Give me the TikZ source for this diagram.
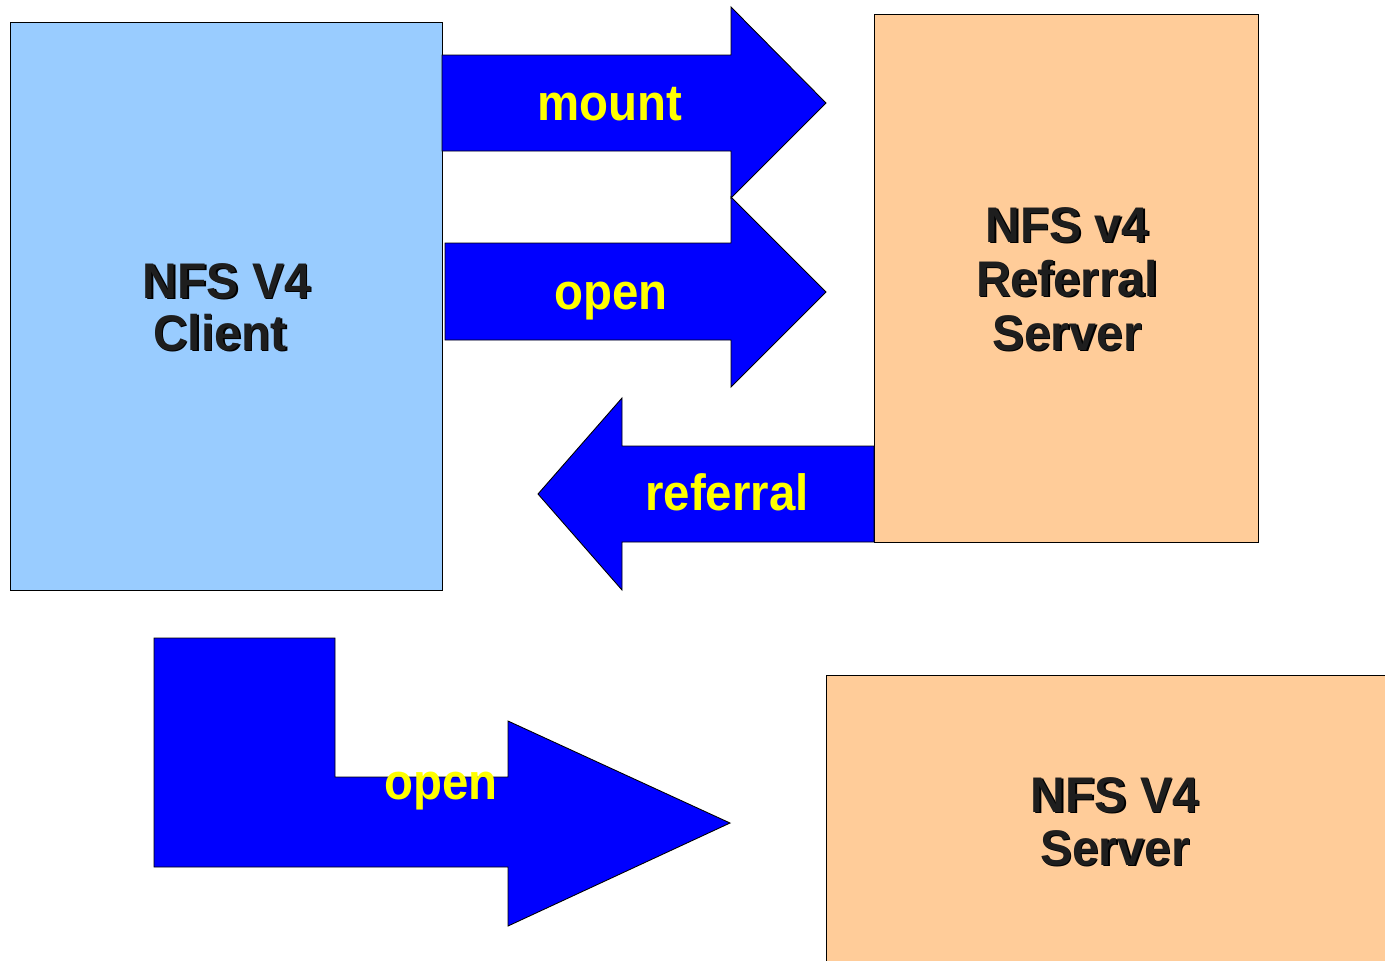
\documentclass[tikz,border=0pt]{standalone}
\usepackage{fontspec}
\setmainfont{Liberation Sans}
\definecolor{clientblue}{HTML}{99CCFF}
\definecolor{serverpeach}{HTML}{FFCC99}
\definecolor{arrowblue}{HTML}{0000FF}
\definecolor{labelyellow}{HTML}{FFFF00}
\definecolor{inkgray}{HTML}{1E1E1E}
\tikzset{
  box/.style={draw=black, line width=0.5pt, inner sep=0pt, anchor=north west},
  blockarrow/.style={draw=black, fill=arrowblue, line width=0.5pt, line join=miter},
  title/.style={font=\bfseries\fontsize{28.5}{30}\selectfont, text=inkgray, inner sep=0pt, anchor=base, xscale=0.96},
  titleshadow/.style={title, text=black},
  msg/.style={font=\bfseries\fontsize{29}{30}\selectfont, text=labelyellow, inner sep=0pt, anchor=base, xscale=0.93},
}
\begin{document}
\begin{tikzpicture}[x=0.02cm, y=-0.02cm]
  \useasboundingbox (0,0) rectangle (1385,960);
  \clip (0,0) rectangle (1385,960);

  % hosts
  \node[box, fill=clientblue, minimum width=8.64cm, minimum height=11.36cm] (client) at (10,22) {};
  \node[box, fill=serverpeach, minimum width=7.68cm, minimum height=10.56cm] (referral) at (874,14) {};
  \node[box, fill=serverpeach, minimum width=12cm, minimum height=8cm] (server) at (826,675) {};

  % host titles with a drop shadow
  \foreach \name/\x/\y/\txt in {c1/227/298/{NFS V4}, c2/220/350/{Client},
      r1/1067/242/{NFS v4}, r2/1067/296/{Referral}, r3/1067/350/{Server},
      s1/1115/812/{NFS V4}, s2/1115/865/{Server}} {
    \node[titleshadow] (\name s) at (\x+1.6,\y+1.6) {\txt};
    \node[title] (\name) at (\x,\y) {\txt};
  }

  % messages between the hosts
  \draw[blockarrow] (442,55) -- (731,55) -- (731,7) -- (826,103) -- (731,198)
        -- (731,151) -- (442,151) -- cycle;
  \draw[blockarrow] (445,243) -- (731,243) -- (731,197) -- (826,292) -- (731,387)
        -- (731,340) -- (445,340) -- cycle;
  \draw[blockarrow] (874,446) -- (622,446) -- (622,398) -- (538,494) -- (622,590)
        -- (622,542) -- (874,542) -- cycle;
  \draw[blockarrow] (154,638) -- (335,638) -- (335,777) -- (508,777) -- (508,721)
        -- (730,823) -- (508,926) -- (508,867) -- (154,867) -- cycle;

  \node[msg] (mount) at (610,120) {mount};
  \node[msg] (open1) at (611,309) {open};
  \node[msg] (refer) at (727,510) {referral};
  \node[msg] (open2) at (441,799) {open};
\end{tikzpicture}
\end{document}
